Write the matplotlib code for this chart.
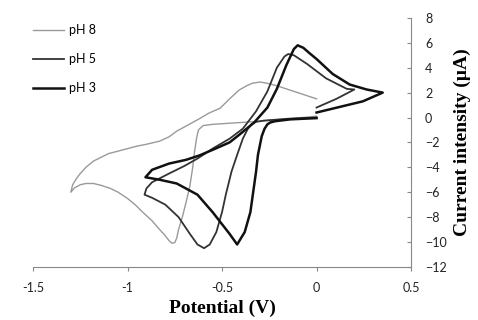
#!/usr/bin/env python
# -*- coding: utf-8 -*-

import matplotlib
matplotlib.use("Agg")
import matplotlib.pyplot as plt

# cyclic voltammograms (potential V, current uA)
pot_ph8 = [0, -0.15, -0.3, -0.45, -0.55, -0.6, -0.625, -0.635, -0.645, -0.655,
           -0.67, -0.69, -0.71, -0.73, -0.74, -0.75, -0.765, -0.78, -0.8, -0.83,
           -0.87, -0.92, -0.96, -1.0, -1.05, -1.09, -1.14, -1.18, -1.22, -1.25,
           -1.28, -1.30,
           -1.29, -1.27, -1.25, -1.22, -1.18, -1.14, -1.1, -1.05, -1.0, -0.95,
           -0.9, -0.83, -0.78, -0.74, -0.68, -0.62, -0.57, -0.51, -0.46, -0.41,
           -0.37, -0.34, -0.30, -0.26, -0.21, -0.16, -0.12, -0.08, -0.04, 0]
cur_ph8 = [0.1, -0.1, -0.3, -0.45, -0.55, -0.65, -1.0, -1.7, -2.7, -4.0,
           -5.5, -6.8, -8.0, -9.0, -9.7, -10.05, -10.1, -9.9, -9.5, -9.0,
           -8.3, -7.6, -7.0, -6.5, -6.0, -5.7, -5.45, -5.3, -5.3, -5.4,
           -5.65, -6.0,
           -5.4, -4.9, -4.5, -4.0, -3.5, -3.2, -2.9, -2.7, -2.5, -2.3,
           -2.15, -1.9, -1.55, -1.1, -0.6, -0.1, 0.35, 0.75, 1.5, 2.2,
           2.55, 2.75, 2.85, 2.75, 2.55, 2.3, 2.1, 1.9, 1.7, 1.5]

pot_ph5 = [0, -0.15, -0.28, -0.32, -0.345, -0.365, -0.39, -0.42, -0.45, -0.48,
           -0.50, -0.53, -0.565, -0.595, -0.63, -0.67, -0.73, -0.80, -0.87,
           -0.91,
           -0.90, -0.87, -0.78, -0.70, -0.63, -0.55, -0.46, -0.39, -0.32, -0.26,
           -0.21, -0.17, -0.15, -0.12, -0.05, 0.05, 0.16, 0.20,
           0.105, 0]
cur_ph5 = [0, -0.1, -0.25, -0.35, -0.55, -0.95, -1.7, -3.0, -4.35, -6.2,
           -7.6, -9.2, -10.2, -10.5, -10.2, -9.35, -8.0, -7.0, -6.45,
           -6.2,
           -5.7, -5.2, -4.5, -3.9, -3.3, -2.5, -1.7, -0.9, 0.5, 2.1,
           4.0, 4.9, 5.1, 5.0, 4.3, 3.15, 2.3, 2.25,
           1.5, 0.8]

pot_ph3 = [0, -0.14, -0.22, -0.245, -0.26, -0.275, -0.29, -0.31, -0.32, -0.35,
           -0.38, -0.42, -0.46, -0.55, -0.63, -0.74, -0.83, -0.905,
           -0.87, -0.78, -0.69, -0.62, -0.55, -0.46, -0.41, -0.33, -0.26, -0.21,
           -0.16, -0.12, -0.10, -0.07, -0.04, 0, 0.085, 0.175, 0.265, 0.35,
           0.245, 0]
cur_ph3 = [-0.05, -0.15, -0.3, -0.4, -0.55, -0.9, -1.5, -3.0, -4.35, -7.6,
           -9.2, -10.2, -9.35, -7.6, -6.2, -5.3, -5.0, -4.8,
           -4.2, -3.7, -3.4, -3.05, -2.6, -2.0, -1.4, -0.4, 0.8, 2.3,
           4.2, 5.5, 5.8, 5.6, 5.2, 4.7, 3.5, 2.65, 2.25, 2.0,
           1.3, 0.4]

labels = ['pH 8', 'pH 5', 'pH 3']

fig = plt.figure(figsize=(4.78, 3.2), dpi=100)
ax = fig.add_axes([0.069, 0.166, 0.791, 0.778])

ax.plot(pot_ph8, cur_ph8, color='#9a9a9a', lw=1.0, label=labels[0])
ax.plot(pot_ph5, cur_ph5, color='#333333', lw=1.3, label=labels[1])
ax.plot(pot_ph3, cur_ph3, color='#111111', lw=1.8, label=labels[2])

ax.set_xlim(-1.5, 0.5)
ax.set_ylim(-12, 8)
ax.set_xticks([-1.5, -1, -0.5, 0, 0.5])
ax.set_xticklabels(['-1.5', '-1', '-0.5', '0', '0.5'])
ax.set_yticks(range(-12, 9, 2))

ax.spines['top'].set_visible(False)
ax.spines['left'].set_visible(False)
for s in ['right', 'bottom']:
    ax.spines[s].set_color('#888888')
    ax.spines[s].set_linestyle((0, (1, 1)))
    ax.spines[s].set_linewidth(0.8)

ax.yaxis.tick_right()
ax.yaxis.set_label_position('right')
ax.tick_params(axis='y', direction='in', length=3, color='#888888',
               labelsize=9, pad=10, labelcolor='#222222')
ax.tick_params(axis='x', direction='out', length=3, color='#888888',
               labelsize=9, pad=8, labelcolor='#222222')
for t in ax.get_yticklabels() + ax.get_xticklabels():
    t.set_fontfamily('Lato')
for t in ax.get_yticklabels():
    t.set_horizontalalignment('left')

ax.set_xlabel('Potential (V)', fontfamily='Liberation Serif',
              fontweight='bold', fontsize=14, labelpad=4)
ax.set_ylabel('Current intensity (\u00b5A)', fontfamily='Liberation Serif',
              fontweight='bold', fontsize=14, labelpad=5)

leg = ax.legend(loc='upper left', bbox_to_anchor=(0.0, 0.975), frameon=False,
                prop={'family': 'Lato', 'size': 9}, handlelength=2.5,
                handletextpad=0.35, labelspacing=1.35, borderpad=0,
                borderaxespad=0)

fig.savefig('out.png', dpi=100)
